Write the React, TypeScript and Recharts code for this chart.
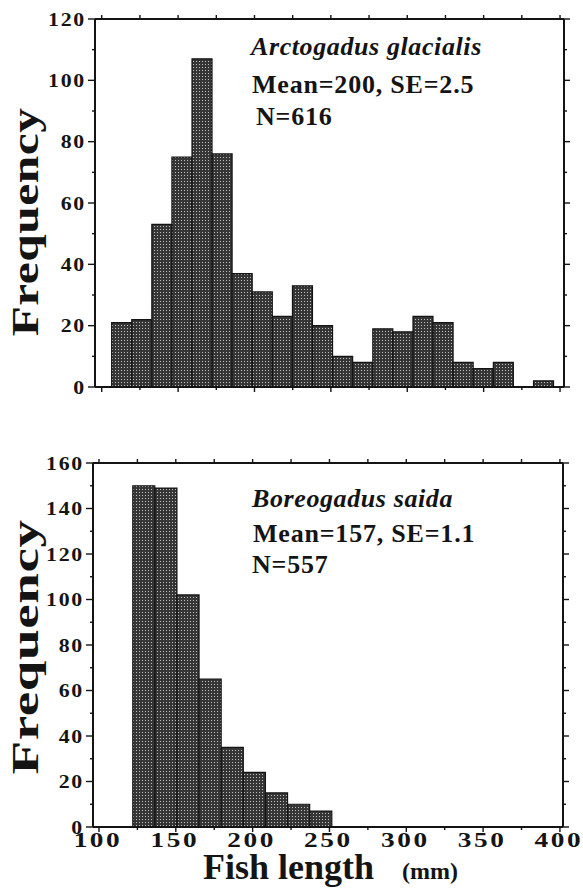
import * as React from "react";
import { ComposedChart, Bar, XAxis, YAxis } from "recharts";

// Arctogadus glacialis, counts per length bin (mm)
const arcticCounts = [21, 22, 53, 75, 107, 76, 37, 31, 23, 33, 20, 10, 8, 19, 18, 23, 21, 8, 6, 8, 0, 2];
const arcticBinStart = 106.5;
const arcticBinWidth = 13.15;

// Boreogadus saida, counts per length bin (mm)
const polarCounts = [150, 149, 102, 65, 35, 24, 15, 10, 7];
const polarBinStart = 122;
const polarBinWidth = 14.4;

const lengthTicks = [100, 125, 150, 175, 200, 225, 250, 275, 300, 325, 350, 375, 400];
const arcticFreqTicks = [0, 10, 20, 30, 40, 50, 60, 70, 80, 90, 100, 110, 120];
const polarFreqTicks = [0, 10, 20, 30, 40, 50, 60, 70, 80, 90, 100, 110, 120, 130, 140, 150, 160];

const FONT = "'Liberation Serif', 'Times New Roman', serif";
const INK = "#141414";

type PanelProps = {
  counts: number[];
  binStart: number;
  binWidth: number;
  xDomain: [number, number];
  yMax: number;
  yTicks: number[];
  top: number;
  height: number;
  plot: { left: number; right: number; top: number; bottom: number };
  showXLabels?: boolean;
};

function LeftTick(props: any) {
  const { x, y, payload } = props;
  const major = payload.value % 20 === 0;
  return (
    <g>
      <line x1={x - (major ? 7 : 3)} x2={x} y1={y} y2={y} stroke={INK} strokeWidth={1.4} />
      {major && (
        <text
          transform={`translate(${x - 9},${y + 6.5}) scale(1.15,1)`}
          textAnchor="end"
          fontFamily={FONT}
          fontWeight="bold"
          fontSize={19}
          letterSpacing={1.5}
          fill={INK}
        >
          {payload.value}
        </text>
      )}
    </g>
  );
}

function RightTick(props: any) {
  const { x, y, payload } = props;
  const major = payload.value % 20 === 0;
  return <line x1={x} x2={x + (major ? 6 : 3)} y1={y} y2={y} stroke={INK} strokeWidth={1.4} />;
}

function TopTick(props: any) {
  const { x, y } = props;
  return <line x1={x} x2={x} y1={y} y2={y - 4} stroke={INK} strokeWidth={1.4} />;
}

function makeBottomTick(showLabels: boolean) {
  return function BottomTick(props: any) {
    const { x, y, payload } = props;
    const major = payload.value % 50 === 0;
    return (
      <g>
        <line x1={x} x2={x} y1={y} y2={y + (major ? 5 : 3)} stroke={INK} strokeWidth={1.4} />
        {showLabels && major && (
          <text
            transform={`translate(${x - 1},${y + 20}) scale(1.3,1)`}
            textAnchor="middle"
            fontFamily={FONT}
            fontWeight="bold"
            fontSize={21}
            letterSpacing={2}
            fill={INK}
          >
            {payload.value}
          </text>
        )}
      </g>
    );
  };
}

function HistPanel({ counts, binStart, binWidth, xDomain, yMax, yTicks, top, height, plot, showXLabels = false }: PanelProps) {
  const data = counts.map((count, i) => ({ bin: String(i), mid: binStart + (i + 0.5) * binWidth, count }));
  const plotWidth = plot.right - plot.left;
  const pxPerMm = plotWidth / (xDomain[1] - xDomain[0]);
  const padLeft = (binStart - xDomain[0]) * pxPerMm;
  const padRight = (xDomain[1] - (binStart + counts.length * binWidth)) * pxPerMm;
  const axisLine = { stroke: INK, strokeWidth: 2 };

  return (
    <div style={{ position: "absolute", left: 0, top, width: 583, height }}>
      <ComposedChart
        width={583}
        height={height}
        data={data}
        margin={{ top: 0, right: 0, bottom: 0, left: 0 }}
        barCategoryGap={0}
        barGap={0}
      >
        <XAxis
          xAxisId="bottom"
          dataKey="mid"
          type="number"
          orientation="bottom"
          domain={xDomain}
          allowDataOverflow
          ticks={lengthTicks}
          interval={0}
          height={height - plot.bottom}
          tickSize={0}
          tickMargin={0}
          tickLine={false}
          axisLine={axisLine}
          tick={makeBottomTick(showXLabels)}
        />
        <XAxis
          xAxisId="bin"
          dataKey="bin"
          type="category"
          orientation="bottom"
          hide
          height={0}
          padding={{ left: padLeft, right: padRight }}
        />
        <XAxis
          xAxisId="top"
          dataKey="mid"
          type="number"
          orientation="top"
          domain={xDomain}
          allowDataOverflow
          ticks={lengthTicks}
          interval={0}
          height={plot.top}
          tickSize={0}
          tickMargin={0}
          tickLine={false}
          axisLine={axisLine}
          tick={TopTick}
        />
        <YAxis
          yAxisId="left"
          type="number"
          domain={[0, yMax]}
          allowDataOverflow
          ticks={yTicks}
          interval={0}
          width={plot.left}
          tickSize={0}
          tickMargin={0}
          tickLine={false}
          axisLine={axisLine}
          tick={LeftTick}
        />
        <YAxis
          yAxisId="right"
          dataKey="count"
          orientation="right"
          type="number"
          domain={[0, yMax]}
          allowDataOverflow
          ticks={yTicks}
          interval={0}
          width={583 - plot.right}
          tickSize={0}
          tickMargin={0}
          tickLine={false}
          axisLine={axisLine}
          tick={RightTick}
        />
        <Bar
          dataKey="count"
          xAxisId="bin"
          yAxisId="left"
          fill="url(#stipple)"
          stroke={INK}
          strokeWidth={1.2}
          isAnimationActive={false}
        />
      </ComposedChart>
    </div>
  );
}

export default function App() {
  const bold = { fontFamily: FONT, fontWeight: "bold" as const, fill: INK };
  return (
    <div style={{ position: "absolute", left: 0, top: 0, width: 583, height: 894, background: "#fff" }}>
      <svg width={0} height={0} style={{ position: "absolute" }}>
        <defs>
          <pattern id="stipple" width={3} height={3} patternUnits="userSpaceOnUse">
            <rect width={3} height={3} fill="#363636" />
            <rect x={1} y={1} width={1} height={1} fill="#c0c0c0" />
          </pattern>
        </defs>
      </svg>

      <HistPanel
        counts={arcticCounts}
        binStart={arcticBinStart}
        binWidth={arcticBinWidth}
        xDomain={[95.6, 402.6]}
        yMax={120}
        yTicks={arcticFreqTicks}
        top={0}
        height={400}
        plot={{ left: 95, right: 564, top: 19, bottom: 387 }}
      />
      <HistPanel
        counts={polarCounts}
        binStart={polarBinStart}
        binWidth={polarBinWidth}
        xDomain={[96.1, 402]}
        yMax={160}
        yTicks={polarFreqTicks}
        top={440}
        height={454}
        plot={{ left: 93, right: 563, top: 23, bottom: 387 }}
        showXLabels
      />

      <svg width={583} height={894} style={{ position: "absolute", left: 0, top: 0, pointerEvents: "none" }}>
        <text x={251} y={55} {...bold} fontStyle="italic" fontSize={26} letterSpacing={0.6}>Arctogadus glacialis</text>
        <text x={252} y={93} {...bold} fontSize={26} letterSpacing={0.8}>Mean=200, SE=2.5</text>
        <text x={256} y={125} {...bold} fontSize={26} letterSpacing={0.8}>N=616</text>

        <text x={252} y={507} {...bold} fontStyle="italic" fontSize={26} letterSpacing={0.6}>Boreogadus saida</text>
        <text x={253} y={542} {...bold} fontSize={26} letterSpacing={0.8}>Mean=157, SE=1.1</text>
        <text x={252} y={573} {...bold} fontSize={26} letterSpacing={0.8}>N=557</text>

        <text transform="translate(38,222) rotate(-90) scale(1.3,1)" textAnchor="middle" {...bold} fontSize={38} letterSpacing={0.4}>Frequency</text>
        <text transform="translate(38,647) rotate(-90) scale(1.45,1)" textAnchor="middle" {...bold} fontSize={38} letterSpacing={0.4}>Frequency</text>

        <text x={203} y={879} {...bold} fontSize={36}>Fish length</text>
        <text x={402} y={879} {...bold} fontSize={24}>(mm)</text>
      </svg>
    </div>
  );
}
